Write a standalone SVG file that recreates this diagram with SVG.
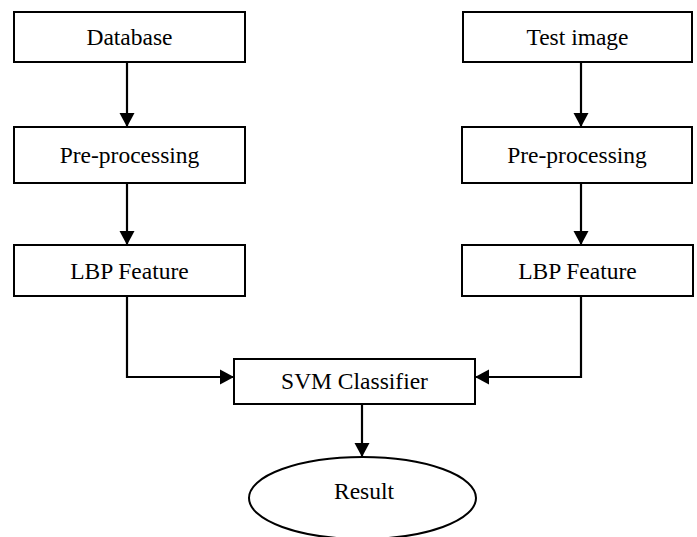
<svg xmlns="http://www.w3.org/2000/svg" width="697" height="537" viewBox="0 0 697 537">
  <style>
    .box { fill: #fff; stroke: #000; stroke-width: 2; }
    .lbl { font-family: "Liberation Serif", "Times New Roman", serif; font-size: 23.5px; fill: #000; text-anchor: middle; dominant-baseline: central; }
    .link { fill: none; stroke: #000; stroke-width: 2.2; }
  </style>
  <defs>
    <marker id="arrow" markerUnits="userSpaceOnUse" markerWidth="16" markerHeight="16" viewBox="0 0 16 16" refX="14" refY="8" orient="auto">
      <path d="M0,0.5 L14,8 L0,15.5 Z" fill="#000"/>
    </marker>
  </defs>
  <rect width="697" height="537" fill="#fff"/>

  <g id="connectors">
    <line class="link" x1="127" y1="62" x2="127" y2="127" marker-end="url(#arrow)"/>
    <line class="link" x1="127" y1="183" x2="127" y2="245" marker-end="url(#arrow)"/>
    <polyline class="link" points="127,296 127,377 234,377" marker-end="url(#arrow)"/>
    <line class="link" x1="581" y1="62" x2="581" y2="127" marker-end="url(#arrow)"/>
    <line class="link" x1="581" y1="183" x2="581" y2="245" marker-end="url(#arrow)"/>
    <polyline class="link" points="581,296 581,377 475,377" marker-end="url(#arrow)"/>
    <line class="link" x1="362" y1="404" x2="362" y2="457" marker-end="url(#arrow)"/>
  </g>

  <g id="database">
    <rect class="box" x="14" y="12" width="231" height="50"/>
    <text class="lbl" x="129.5" y="37">Database</text>
  </g>
  <g id="preprocessing-left">
    <rect class="box" x="14" y="127" width="231" height="56"/>
    <text class="lbl" x="129.5" y="155">Pre-processing</text>
  </g>
  <g id="lbp-left">
    <rect class="box" x="14" y="245" width="231" height="51"/>
    <text class="lbl" x="129.5" y="270.5">LBP Feature</text>
  </g>

  <g id="test-image">
    <rect class="box" x="463" y="12" width="229" height="50"/>
    <text class="lbl" x="577.5" y="37">Test image</text>
  </g>
  <g id="preprocessing-right">
    <rect class="box" x="462" y="127" width="230" height="56"/>
    <text class="lbl" x="577" y="155">Pre-processing</text>
  </g>
  <g id="lbp-right">
    <rect class="box" x="462" y="245" width="231" height="51"/>
    <text class="lbl" x="577.5" y="270.5">LBP Feature</text>
  </g>

  <g id="svm-classifier">
    <rect class="box" x="234" y="359" width="241" height="45"/>
    <text class="lbl" x="354.5" y="381">SVM Classifier</text>
  </g>

  <g id="result">
    <ellipse class="box" cx="362.5" cy="498" rx="113.5" ry="41"/>
    <text class="lbl" x="364" y="491">Result</text>
  </g>
</svg>
